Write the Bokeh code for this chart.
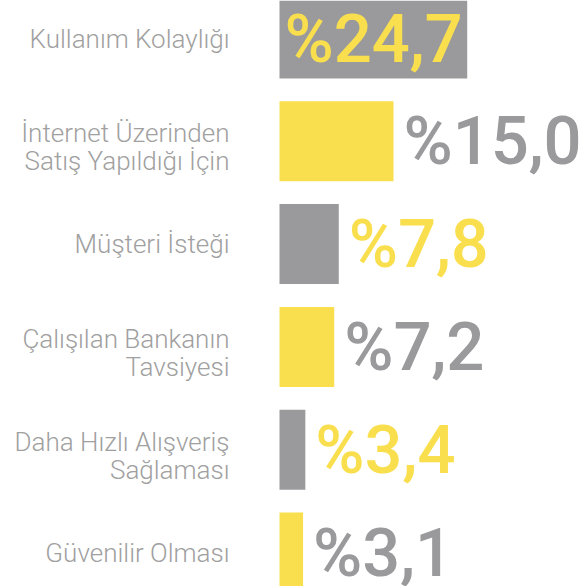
from bokeh.plotting import figure
from bokeh.models import ColumnDataSource, Range1d
from bokeh.core.properties import value
from bokeh.embed import file_html
from bokeh.resources import INLINE

# ---- data ----
categories = [
    "Kullanım Kolaylığı",
    "İnternet Üzerinden\nSatış Yapıldığı İçin",
    "Müşteri İsteği",
    "Çalışılan Bankanın\nTavsiyesi",
    "Daha Hızlı Alışveriş\nSağlaması",
    "Güvenilir Olması",
]
values = [24.7, 15.0, 7.8, 7.2, 3.4, 3.1]
value_labels = ["%24,7", "%15,0", "%7,8", "%7,2", "%3,4", "%3,1"]

GRAY = "#9a9a9c"
YELLOW = "#f9df4e"
LABEL_GRAY = "#a0a0a0"

# ---- layout (pixels) ----
W, H = 585, 586
bar_left_px = 279
px_per_unit = 7.6
first_center_px = 38
row_px = 102.8
bar_px = 80

n = len(values)
ys = list(range(n))
bar_colors = [GRAY if i % 2 == 0 else YELLOW for i in range(n)]
text_colors = [YELLOW if i % 2 == 0 else GRAY for i in range(n)]

vmax = max(values)
label_x = [0 if v == vmax else v for v in values]
label_off = [5 if v == vmax else 10 for v in values]
cat_yoff = [0 if "\n" not in c else 6 for c in categories]

src = ColumnDataSource(dict(
    y=ys, v=values, cat=categories, vl=value_labels,
    bc=bar_colors, tc=text_colors, lx=label_x, lo=label_off,
    cy=cat_yoff, zero=[0] * n,
))

p = figure(
    width=W, height=H, output_backend="svg", toolbar_location=None,
    x_axis_type=None, y_axis_type=None,
    x_range=Range1d(-bar_left_px / px_per_unit, (W - bar_left_px) / px_per_unit),
    y_range=Range1d((H - first_center_px) / row_px, -first_center_px / row_px),
    min_border=0, outline_line_color=None,
)
p.grid.visible = False
p.background_fill_color = "white"
p.border_fill_color = "white"

p.hbar(y="y", left=0, right="v", height=bar_px / row_px, color="bc",
       line_color=None, source=src)

p.text(x="zero", y="y", text="cat", source=src, x_offset=-50, y_offset="cy",
       text_align="right", text_baseline="middle", text_line_height=0.94,
       text_font=value("Roboto Light"), text_font_size="26px",
       text_color=LABEL_GRAY)

p.text(x="lx", y="y", text="vl", source=src, x_offset="lo", y_offset=0,
       text_align="left", text_baseline="alphabetic",
       text_font=value("Roboto Medium"), text_font_size="67px",
       text_color="tc")

open("out.html", "w").write(file_html(p, INLINE))
